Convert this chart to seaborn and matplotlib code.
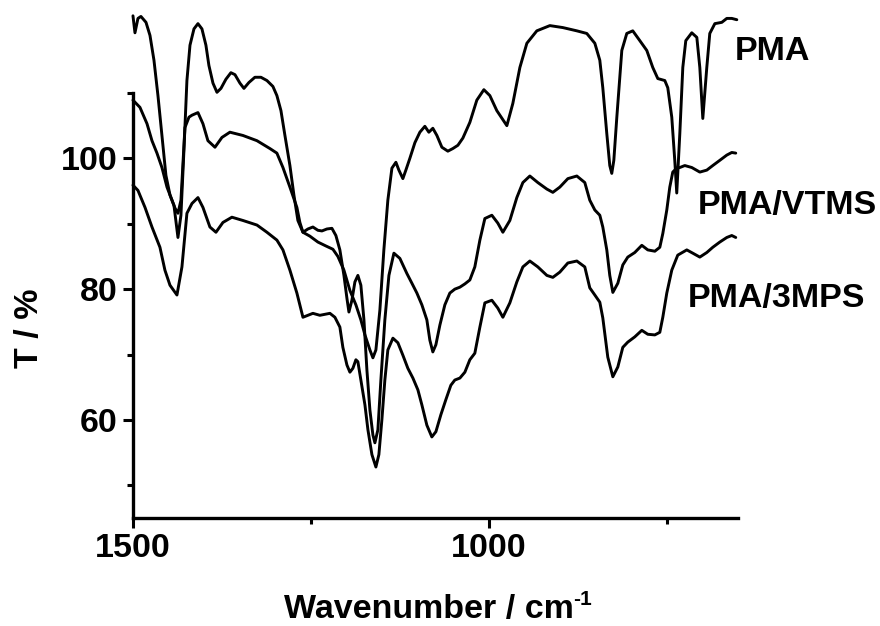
import numpy as np
import pandas as pd
import matplotlib
matplotlib.use("Agg")
import matplotlib.pyplot as plt
from matplotlib.ticker import MultipleLocator
import seaborn as sns

# FTIR spectra
pma_wn = [1500, 1497.2, 1493, 1488.8, 1481.7, 1476.1, 1470.5, 1464.9, 1459.3, 1453.7,
          1448, 1442.4, 1436.8, 1432.6, 1428.4, 1424.2, 1419.9, 1414.3, 1408.7, 1403.1,
          1397.5, 1393.3, 1387.6, 1382, 1376.4, 1369.4, 1362.4, 1356.7, 1349.7, 1344.1,
          1337.1, 1328.7, 1320.2, 1311.8, 1303.4, 1297.8, 1292.1, 1286.5, 1279.5, 1273.9,
          1268.3, 1261.2, 1251.4, 1240.2, 1228.9, 1219.1, 1212.1, 1203.6, 1195.2, 1186.8,
          1179.8, 1174.1, 1167.1, 1162.9, 1158.7, 1153.1, 1147.5, 1141.9, 1136.2, 1130.6,
          1126.4, 1120.8, 1116.6, 1111, 1103.9, 1096.9, 1089.9, 1084.3, 1078.7, 1073,
          1066, 1057.6, 1050.6, 1043.5, 1036.5, 1026.7, 1016.9, 1007, 998.6, 988.8,
          974.7, 966.3, 956.4, 946.6, 932.6, 914.3, 896.1, 876.4, 862.4, 851.1,
          844.1, 839.9, 834.3, 830.1, 827.3, 824.4, 820.2, 813.2, 806.2, 797.8,
          787.9, 778.1, 769.7, 762.6, 752.8, 748.6, 743, 738.8, 736, 731.7,
          727.5, 723.3, 714.9, 707.8, 703.6, 699.4, 693.8, 689.6, 682.5, 672.7,
          665.7, 658.7, 651.6]
pma_t = [121.8, 119.2, 121.4, 121.7, 120.8, 118.8, 115.0, 109.6, 103.5, 97.4,
         94.4, 92.8, 87.9, 91.3, 101.2, 111.9, 117.3, 119.8, 120.6, 119.8,
         117.3, 114.2, 111.5, 110.1, 110.7, 112.1, 113.1, 112.8, 111.5, 110.7,
         111.6, 112.4, 112.4, 111.9, 111.0, 109.6, 107.3, 103.5, 98.9, 94.4,
         90.5, 88.7, 88.1, 87.2, 86.6, 86.1, 85.0, 82.9, 79.8, 77.6,
         75.3, 73.0, 70.7, 69.5, 70.7, 76.8, 86.0, 93.6, 98.5, 99.4,
         98.2, 96.9, 98.2, 100, 102.4, 104.0, 104.9, 104.0, 104.6, 103.5,
         101.7, 101.1, 101.5, 102.0, 103.1, 105.5, 108.9, 110.5, 109.6, 107.3,
         105.0, 108.4, 113.9, 117.6, 119.5, 120.3, 120.0, 119.5, 119.1, 117.6,
         115.0, 110.8, 103.8, 98.9, 97.7, 99.7, 106.3, 116.5, 119.1, 119.5,
         118.0, 116.5, 113.9, 112.2, 111.9, 110.8, 106.3, 99.7, 94.7, 103.8,
         113.9, 118.0, 119.2, 118.5, 113.9, 106.1, 113.9, 119.1, 120.6, 120.8,
         121.4, 121.4, 121.2]

vtms_wn = [1500, 1490.2, 1480.3, 1473.3, 1466.3, 1459.3, 1452.2, 1445.2, 1441, 1436.8,
           1432.6, 1427, 1421.3, 1417.1, 1408.7, 1401.7, 1394.7, 1384.8, 1375, 1363.8,
           1345.5, 1325.8, 1307.6, 1297.8, 1289.3, 1279.5, 1269.7, 1265.5, 1261.2, 1254.2,
           1247.2, 1240.2, 1234.5, 1227.5, 1220.5, 1214.9, 1209.3, 1203.6, 1199.4, 1196.6,
           1192.4, 1188.2, 1184, 1179.8, 1175.5, 1171.3, 1167.1, 1162.9, 1160.1, 1155.9,
           1151.7, 1146.1, 1140.4, 1133.4, 1125, 1115.2, 1108.1, 1101.1, 1094.1, 1087.1,
           1082.9, 1078.7, 1074.4, 1068.8, 1061.8, 1054.8, 1047.8, 1040.7, 1033.7, 1026.7,
           1019.7, 1012.6, 1005.6, 995.8, 987.4, 980.3, 970.5, 960.7, 952.2, 942.4,
           931.2, 918.5, 910.1, 900.3, 889, 876.4, 865.2, 858.2, 851.1, 844.1,
           839.9, 834.3, 830.1, 825.8, 818.8, 811.8, 804.8, 795, 785.1, 776.7,
           766.8, 759.8, 755.6, 750, 745.8, 741.6, 736, 731.7, 724.7, 714.9,
           703.6, 693.8, 685.4, 675.5, 665.7, 658.7, 653.1]
vtms_t = [108.9, 107.8, 105.3, 102.7, 100.8, 98.6, 95.6, 93.6, 92.4, 91.6,
          93.6, 104.7, 106.3, 106.6, 107.0, 105.3, 102.7, 101.7, 103.2, 104.0,
          103.5, 102.7, 101.5, 100.8, 98.6, 95.6, 92.5, 90.2, 88.7, 89.2,
          89.5, 89.0, 88.9, 89.2, 89.3, 88.2, 86.0, 82.1, 78.6, 76.5,
          78.3, 81.1, 82.1, 80.6, 75.3, 67.6, 61.5, 57.7, 56.5, 58.5,
          66.1, 75.3, 82.1, 85.5, 84.7, 82.4, 80.9, 79.4, 77.6, 75.3,
          72.2, 70.4, 71.5, 74.5, 77.6, 79.4, 80.0, 80.3, 80.8, 81.4,
          83.4, 87.5, 90.8, 91.3, 90.1, 88.7, 90.5, 94.0, 96.3, 97.3,
          96.3, 95.3, 94.8, 95.6, 96.9, 97.3, 96.3, 93.6, 92.1, 91.3,
          89.5, 86.0, 82.1, 79.5, 80.9, 83.7, 84.9, 85.6, 86.7, 86.0,
          85.8, 86.4, 88.5, 92.1, 95.6, 97.9, 98.5, 98.6, 98.9, 98.6,
          97.9, 98.2, 98.9, 99.7, 100.5, 100.9, 100.8]

mps_wn = [1500, 1493, 1483.1, 1473.3, 1462.1, 1455.1, 1448, 1438.2, 1431.2, 1424.2,
          1417.1, 1408.7, 1401.7, 1391.9, 1383.4, 1373.6, 1361, 1345.5, 1325.8, 1311.8,
          1297.8, 1289.3, 1279.5, 1269.7, 1261.2, 1254.2, 1247.2, 1237.4, 1223.3, 1216.3,
          1209.3, 1205.1, 1199.4, 1195.2, 1191, 1186.8, 1184, 1179.8, 1174.1, 1169.9,
          1164.3, 1158.7, 1154.5, 1150.3, 1146.1, 1141.9, 1134.8, 1127.8, 1120.8, 1113.8,
          1106.7, 1099.7, 1094.1, 1087.1, 1080.1, 1074.4, 1067.4, 1060.4, 1053.4, 1047.8,
          1040.7, 1033.7, 1026.7, 1019.7, 1012.6, 1005.6, 995.8, 987.4, 980.3, 970.5,
          960.7, 952.2, 942.4, 931.2, 918.5, 910.1, 900.3, 889, 876.4, 865.2,
          858.2, 851.1, 844.1, 839.9, 832.9, 825.8, 818.8, 811.8, 804.8, 795,
          785.1, 776.7, 766.8, 759.8, 755.6, 750, 743, 734.6, 721.9, 713.5,
          703.6, 693.8, 685.4, 675.5, 665.7, 658.7, 653.1]
mps_t = [95.9, 95.1, 92.5, 89.5, 86.4, 82.9, 80.6, 79.1, 83.4, 91.6,
         93.1, 94.0, 92.5, 89.5, 88.7, 90.2, 91.0, 90.5, 89.8, 88.7,
         87.5, 86.0, 82.9, 79.4, 75.7, 76.0, 76.3, 76.0, 76.3, 75.7,
         74.2, 71.1, 68.4, 67.3, 67.9, 69.2, 68.9, 66.1, 62.3, 58.5,
         54.7, 52.8, 54.7, 60.0, 66.1, 70.7, 72.5, 71.8, 69.9, 67.9,
         66.4, 64.6, 62.3, 59.2, 57.4, 58.2, 60.8, 63.1, 65.3, 66.1,
         66.4, 67.3, 69.2, 70.2, 74.2, 77.9, 78.3, 77.1, 75.7, 77.9,
         81.1, 83.4, 84.3, 83.4, 82.1, 81.8, 82.6, 84.0, 84.3, 83.4,
         80.2, 79.1, 78.0, 75.6, 69.6, 66.6, 68.1, 71.1, 71.9, 72.7,
         73.7, 73.1, 73.0, 73.4, 75.7, 79.4, 82.9, 85.2, 86.0, 85.5,
         84.9, 85.6, 86.4, 87.2, 87.9, 88.2, 87.9]

labels = ["PMA", "PMA/VTMS", "PMA/3MPS"]
label_x = [655, 706, 720]
label_y = [116.3, 92.8, 78.6]

df = pd.concat([
    pd.DataFrame({"wn": pma_wn, "T": pma_t, "sample": "PMA"}),
    pd.DataFrame({"wn": vtms_wn, "T": vtms_t, "sample": "PMA/VTMS"}),
    pd.DataFrame({"wn": mps_wn, "T": mps_t, "sample": "PMA/3MPS"}),
])

sns.set_style("ticks", rc={"axes.edgecolor": "black", "xtick.color": "black",
                           "ytick.color": "black", "text.color": "black",
                           "axes.labelcolor": "black"})
plt.rcParams["font.family"] = ["Liberation Sans", "DejaVu Sans"]
plt.rcParams["font.weight"] = "bold"

FS = 24.5

fig = plt.figure(figsize=(8.8, 6.26), dpi=100)
ax = fig.add_axes([0.1511, 0.1725, 0.6875, 0.679])

sns.lineplot(data=df, x="wn", y="T", units="sample", estimator=None,
             color="black", linewidth=2.1, sort=False, ax=ax, clip_on=False,
             solid_joinstyle="round")

ax.set_xlim(1500, 650)
ax.set_ylim(45, 110)
ax.xaxis.set_major_locator(MultipleLocator(500))
ax.xaxis.set_minor_locator(MultipleLocator(250))
ax.yaxis.set_major_locator(MultipleLocator(20))
ax.yaxis.set_minor_locator(MultipleLocator(10))

sns.despine(ax=ax)
for s in ["left", "bottom"]:
    ax.spines[s].set_linewidth(2.4)
ax.tick_params(which="major", direction="out", length=7, width=2.2,
               labelsize=FS, pad=4)
ax.tick_params(which="minor", direction="out", length=4, width=2.2)
for lab in ax.get_xticklabels() + ax.get_yticklabels():
    lab.set_fontweight("bold")

ax.set_xlabel("Wavenumber / cm", fontsize=FS, fontweight="bold")
ax.set_ylabel("T / %", fontsize=FS, fontweight="bold")
ax.xaxis.set_label_coords(0.49, -0.178)
ax.yaxis.set_label_coords(-0.145, 0.447)
# superscript -1 after cm
ax.annotate("-1", xy=(1.0, 1.0), xycoords=ax.xaxis.label, xytext=(-1, 3),
            textcoords="offset points", ha="left", va="top",
            fontsize=15, fontweight="bold")

for name, tx, ty in zip(labels, label_x, label_y):
    ax.text(tx, ty, name, fontsize=FS, fontweight="bold", va="center", ha="left",
            clip_on=False)

fig.savefig("out.png", dpi=100)
